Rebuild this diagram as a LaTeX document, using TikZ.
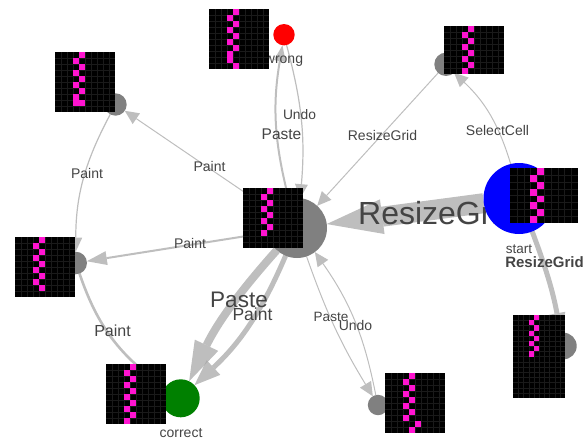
\documentclass[tikz,border=0pt]{standalone}
\usepackage{fontspec}
\setmainfont{Liberation Sans}
\usetikzlibrary{arrows.meta}
\pgfdeclarelayer{edges}
\pgfsetlayers{edges,main}
\definecolor{edgecol}{HTML}{A8A8A8}
\definecolor{txtcol}{HTML}{444444}
\definecolor{pink}{HTML}{FF14D0}
\definecolor{gridcol}{HTML}{1A1A1A}
\definecolor{greyc}{HTML}{808080}
\definecolor{greenc}{HTML}{008000}
\tikzset{
  state/.style={circle,inner sep=0pt,outer sep=0pt,minimum size=#1},
  conn/.style={draw=edgecol,draw opacity=.75,fill opacity=.75,line width=1pt},
  tipthin/.style={-{Triangle[length=14pt,width=13pt,color=edgecol,line width=0pt]}},
  lab/.style={text=txtcol,inner sep=0pt,font=\fontsize{#1}{#1}\selectfont}
}
\newcommand{\gridimg}[6]{%
  \begin{scope}[shift={(#1,#2)},x=#3pt/10,y=-#4pt/#5]
    \fill[black] (0,0) rectangle (10,#5);
    \foreach \i in {1,...,9} {\draw[gridcol,line width=.2pt] (\i,0) -- (\i,#5);}
    \foreach \j in {0,...,#5} {\ifnum\j>0\ifnum\j<#5\relax\draw[gridcol,line width=.2pt] (0,\j) -- (10,\j);\fi\fi}
    \foreach \c/\r in {#6} {\fill[pink] (\c,\r) rectangle (\c+1,\r+1);}
  \end{scope}}
\begin{document}
\begin{tikzpicture}[x=1pt,y=-1pt]
\useasboundingbox (0,0) rectangle (586,439);
% states
\node[state=60pt,fill=greyc] (c) at (297,228) {};
\node[state=71pt,fill=blue] (s) at (519,198.5) {};
\node[state=21.4pt,fill=red] (w) at (284,34.7) {};
\node[state=38pt,fill=greenc] (g) at (180.7,398.3) {};
\node[state=22.4pt,fill=greyc] (lu) at (115.5,104.5) {};
\node[state=22.6pt,fill=greyc] (l) at (75.7,263) {};
\node[state=23.4pt,fill=greyc] (tr) at (446,64.3) {};
\node[state=26.6pt,fill=greyc] (br) at (563.4,346) {};
\node[state=20.4pt,fill=greyc] (b) at (378,405) {};
% grids
\gridimg{209}{9}{60}{60}{10}{4/0,3/1,4/2,3/3,4/4,3/5,4/6,3/7,3/8,4/9}
\gridimg{243}{188}{60}{60}{10}{4/0,3/1,4/2,3/3,4/4,3/5,4/6,3/7}
\gridimg{510}{168}{68}{55}{8}{4/0,3/1,4/2,3/3,4/4,3/5,4/6,3/7}
\gridimg{513}{315}{52}{83}{16}{4/0,3/1,4/2,3/3,4/4,3/5,4/6,3/7}
\gridimg{55}{52}{60}{60}{10}{4/0,3/1,4/2,3/3,4/4,3/5,4/6,3/7,3/8,4/8}
\gridimg{15}{237}{60}{60}{10}{4/0,3/1,4/2,3/3,4/4,3/5,4/6,3/7,4/8}
\gridimg{444.3}{26}{59.4}{48}{8}{4/0,3/1,4/2,3/3,4/4,3/5,4/6,3/7}
\gridimg{385}{373}{60}{60}{10}{4/0,3/1,4/2,3/3,4/4,3/5,4/6,3/7,5/8,4/9}
\gridimg{106}{364}{60}{60}{10}{4/0,3/1,4/2,3/3,4/4,3/5,4/6,3/7,4/8,3/9}
% connectors and labels beneath
\begin{pgfonlayer}{edges}
\draw[conn,line width=20pt,-{Triangle[length=56pt,width=35pt,color=edgecol,line width=0pt]}] (s) -- (c);
\draw[conn,line width=5pt,-{Triangle[length=20pt,width=17pt,color=edgecol,line width=0pt]}] (s) to[bend left=5] (br);
\draw[conn,tipthin] (tr) -- (c);
\draw[conn,tipthin] (s) to[bend right=15] (tr);
\draw[conn,tipthin] (c) -- (lu);
\draw[conn,line width=1.2pt,tipthin] (lu) to[bend right=14] (l);
\draw[conn,line width=2pt,-{Triangle[length=20pt,width=14pt,color=edgecol,line width=0pt]}] (c) -- (l);
\draw[conn,line width=2.6pt] (l) to[bend right=18] (g);
\draw[conn,line width=8pt,-{Triangle[length=40pt,width=26pt,color=edgecol,line width=0pt]}] (c) to[bend right=8] (g);
\draw[conn,line width=5pt,-{Triangle[length=26pt,width=20pt,color=edgecol,line width=0pt]}] (c) to[bend left=12] (g);
\draw[conn,tipthin] (c) to[bend right=6] (b);
\draw[conn,tipthin] (b) to[bend right=12] (c);
\draw[conn,line width=2pt,-{Triangle[length=16pt,width=12pt,color=edgecol,line width=0pt]}] (c) to[bend left=12] (w);
\draw[conn,line width=1.2pt,tipthin] (w) to[bend left=10] (c);
\node[lab=32,anchor=west] (t1) at (358,213) {ResizeGrid};
\node[lab=15,font=\fontsize{15}{15}\selectfont\bfseries] (t2) at (544.5,262) {ResizeGrid};
\node[lab=14] (t3) at (382.5,135) {ResizeGrid};
\node[lab=14] (t4) at (497.5,130) {SelectCell};
\node[lab=14] (t5) at (209.5,166) {Paint};
\node[lab=14] (t6) at (87,173) {Paint};
\node[lab=14] (t7) at (190,243) {Paint};
\node[lab=16] (t8) at (112.5,331) {Paint};
\node[lab=22.5] (t9) at (239,300) {Paste};
\node[lab=17.5] (t10) at (252.5,314) {Paint};
\node[lab=13.5] (t11) at (331,317) {Paste};
\node[lab=14] (t12) at (355.5,325) {Undo};
\node[lab=15.5] (t13) at (281.5,134) {Paste};
\node[lab=13.8] (t14) at (299.5,115) {Undo};
\node[lab=14] (t15) at (284,61) {wrong};
\node[lab=13.5] (t16) at (519,249) {start};
\node[lab=14] (t17) at (181,433) {correct};
\end{pgfonlayer}
\end{tikzpicture}
\end{document}
